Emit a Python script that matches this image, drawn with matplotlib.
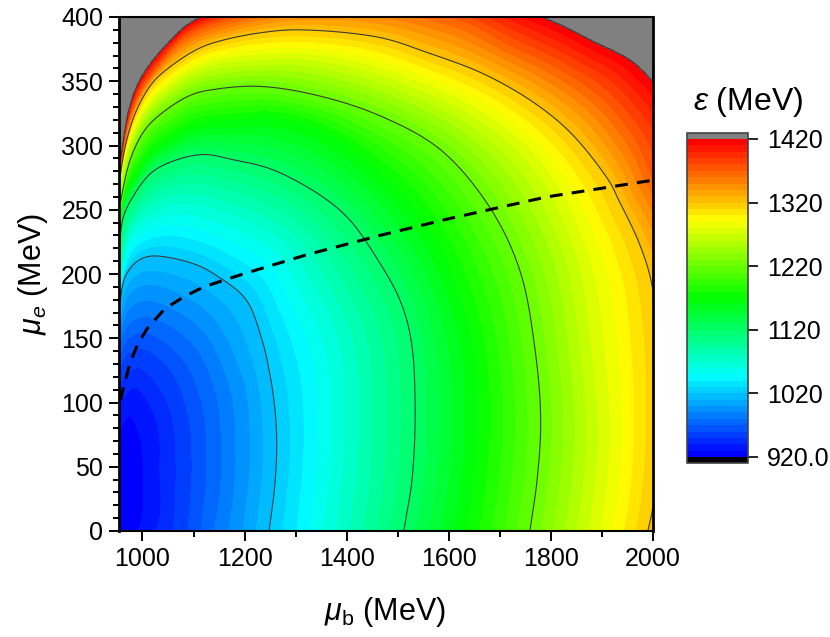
import numpy as np
import matplotlib
matplotlib.use('Agg')
import matplotlib.pyplot as plt
from matplotlib.colors import LinearSegmentedColormap, Normalize
from matplotlib.ticker import MultipleLocator

plt.rcParams['font.family'] = ['Liberation Sans', 'DejaVu Sans']
plt.rcParams['mathtext.fontset'] = 'custom'
plt.rcParams['mathtext.rm'] = 'Liberation Sans'
plt.rcParams['mathtext.it'] = 'Liberation Sans:italic'

# Iso-energy traces: (mu_b, mu_e) for each epsilon level.
# Points just outside the frame close each curve around the minimum.
trace_930 = [(954,-2),(991,0),(1001,45),(997,70),(975,90),(954,78)]
trace_940 = [(954,-8),(1024,0),(1034,50),(1028,85),(985,112),(954,100)]
trace_960 = [(954,-25),(1080,-22),(1088,0),(1095,30),(1097,55),(1090,90),(1055,125),(1000,142),(970,138),(954,127)]
trace_980 = [(954,-30),(1135,-25),(1141,0),(1152,30),(1155,60),(1145,105),(1100,145),(1010,167),(975,162),(954,146)]
trace_1000 = [(954,-40),(1190,-30),(1197,0),(1208,35),(1211,65),(1200,115),(1130,170),(1015,192),(975,185),(954,160)]
trace_1020 = [(954,-40),(1240,-30),(1248,0),(1259,35),(1263,70),(1258,100),(1248,125),(1234,149),(1203,180),
              (1152,197),(1100,208),(1018,214),(990,210),(966,198),(954,172)]
trace_1070 = [(954,-40),(1373,-30),(1381,0),(1392,40),(1398,85),(1393,135),(1365,170),(1330,195),(1280,225),
              (1170,247),(1068,255),(985,238),(954,197)]
trace_1120 = [(954,-40),(1504,-30),(1512,0),(1528,40),(1534,98),(1526,149),(1504,180),(1461,211),(1406,242),
              (1353,260),(1256,281),(1177,289),(1118,293),(1054,287),(1015,278),(981,260),(962,244),(954,219)]
trace_1170 = [(954,-40),(1628,-30),(1636,0),(1650,40),(1657,92),(1648,145),(1600,207),(1543,247),(1465,280),
              (1360,310),(1260,322),(1175,320),(1100,316),(1055,306),(1020,297),(990,280),(966,265),(954,235)]
trace_1220 = [(954,-40),(1750,-30),(1759,0),(1773,40),(1780,86),(1769,141),(1739,203),(1680,252),(1583,297),
              (1466,323),(1342,339),(1230,346),(1146,344),(1093,339),(1028,322),(1001,310),(976,289),(954,250)]
trace_1270 = [(954,-40),(1868,-30),(1875,0),(1888,40),(1893,80),(1880,140),(1850,215),(1770,280),(1660,320),
              (1465,355),(1325,367),(1232,367),(1152,364),(1100,358),(1044,343),(1010,330),(982,309),(962,285),(954,262)]
trace_1320 = [(954,-40),(1982,-20),(1990,0),(2000,20),(2012,100),(2000,187),(1975,222),(1931,259),(1916,271),
              (1857,302),(1811,320),(1745,339),(1661,357),(1560,372),(1465,384),(1308,390),(1236,388),(1158,382),
              (1113,376),(1060,363),(1020,349),(989,328),(969,304),(956,275),(954,268)]
trace_1370 = [(954,-40),(2150,-40),(2160,100),(2100,200),(2000,275),(1965,305),(1905,335),(1815,360),(1720,378),
              (1620,398),(1400,412),(1190,400),(1085,385),(1036,365),(995,342),(972,318),(954,276)]
trace_1420 = [(954,-40),(2250,-40),(2300,100),(2060,320),(2000,350),(1955,367),(1890,380),(1785,400),(1450,440),
              (1107,399),(1054,382),(1001,356),(976,333),(954,285)]
traces = {930: trace_930, 940: trace_940, 960: trace_960, 980: trace_980, 1000: trace_1000,
          1020: trace_1020, 1070: trace_1070, 1120: trace_1120, 1170: trace_1170,
          1220: trace_1220, 1270: trace_1270, 1320: trace_1320, 1370: trace_1370, 1420: trace_1420}

# Where the field is lowest, and the value there
min_b, min_e, min_eps = 954, 40, 920
top_eps = 1500

# Dashed curve
dash_b = [957,965,975,990,1010,1044,1080,1120,1197,1322,1465,1600,1792,2000]
dash_e = [102,115,130,145,158,173,182,190,200,215,230,243,260,273]

level_step = 10
level_min, level_max = 920, 1420
line_levels = [1020, 1120, 1220, 1320, 1420]
cbar_ticks = [920, 1020, 1120, 1220, 1320, 1420]
cbar_labels = ['920.0', '1020', '1120', '1220', '1320', '1420']
xlim = (954, 2000)
ylim = (0, 400)


def to_uv(b, e):
    return ((np.asarray(b, float) - min_b) / (xlim[1] - xlim[0]),
            (np.asarray(e, float) - min_e) / (ylim[1] - ylim[0]))


def smooth_curve(pts, n=10):
    """Centripetal Catmull-Rom through the read points."""
    P = np.vstack([2 * pts[0] - pts[1], pts, 2 * pts[-1] - pts[-2]])
    out = []
    for i in range(1, len(P) - 2):
        p0, p1, p2, p3 = P[i - 1], P[i], P[i + 1], P[i + 2]
        t0 = 0.0
        t1 = t0 + np.linalg.norm(p1 - p0) ** 0.5
        t2 = t1 + np.linalg.norm(p2 - p1) ** 0.5
        t3 = t2 + np.linalg.norm(p3 - p2) ** 0.5
        t = np.linspace(t1, t2, n, endpoint=False)[:, None]
        a1 = (t1 - t) / (t1 - t0) * p0 + (t - t0) / (t1 - t0) * p1
        a2 = (t2 - t) / (t2 - t1) * p1 + (t - t1) / (t2 - t1) * p2
        a3 = (t3 - t) / (t3 - t2) * p2 + (t - t2) / (t3 - t2) * p3
        b1 = (t2 - t) / (t2 - t0) * a1 + (t - t0) / (t2 - t0) * a2
        b2 = (t3 - t) / (t3 - t1) * a2 + (t - t1) / (t3 - t1) * a3
        out.append((t2 - t) / (t2 - t1) * b1 + (t - t1) / (t2 - t1) * b2)
    out.append(pts[-1:])
    return np.vstack(out)


# Tabulate each trace as radius against angle, then read the field off the traces
d_ang = 0.1
ang = np.arange(-90, 90 + d_ang / 2, d_ang)
radii = [np.zeros_like(ang)]
eps_levels = [min_eps]
for lev in sorted(traces):
    u, v = to_uv(*np.array(traces[lev], float).T)
    c = smooth_curve(np.column_stack([u, v]))
    th = np.degrees(np.arctan2(c[:, 1], np.maximum(c[:, 0], 0)))
    rr = np.hypot(c[:, 0], c[:, 1])
    o = np.argsort(th)
    radii.append(np.interp(ang, th[o], rr[o]))
    eps_levels.append(lev)
radii = np.maximum.accumulate(np.array(radii), axis=0)
radii += np.arange(radii.shape[0])[:, None] * 1e-6
eps_levels = np.array(eps_levels, float)

grid_b = np.linspace(xlim[0], xlim[1], 800)
grid_e = np.linspace(ylim[0], ylim[1], 700)
B, E = np.meshgrid(grid_b, grid_e)
U, V = to_uv(B, E)
TH = np.degrees(np.arctan2(V, U))
RR = np.hypot(U, V)
pos = np.clip((TH + 90) / d_ang, 0, len(ang) - 1.001)
ia = pos.astype(int)
fr = pos - ia
Z = np.zeros_like(B)
for j in np.unique(ia):
    m = ia == j
    z0 = np.interp(RR[m], radii[:, j], eps_levels, right=top_eps)
    z1 = np.interp(RR[m], radii[:, j + 1], eps_levels, right=top_eps)
    Z[m] = (1 - fr[m]) * z0 + fr[m] * z1

levels = np.arange(level_min, level_max + 1, level_step)
cmap = LinearSegmentedColormap.from_list('rb', ['#0000ff', '#00ffff', '#00ff00', '#ffff00', '#ff0000'],
                                         N=len(levels) - 1)
cmap.set_over('#808080')
cmap.set_under('#000000')
norm = Normalize(level_min, level_max)

W, H = 830, 637
fig = plt.figure(figsize=(W / 100, H / 100), dpi=100)
ax = fig.add_axes([119 / W, 1 - 531 / H, (653 - 119) / W, (531 - 17) / H])
cf = ax.contourf(B, E, Z, levels=levels, cmap=cmap, norm=norm, extend='both')
ax.contour(B, E, Z, levels=line_levels, colors='#3c3c3c', linewidths=0.8)
ax.plot(dash_b, dash_e, color='k', lw=2.2, ls=(0, (4.2, 3)))
ax.set_xlim(*xlim)
ax.set_ylim(*ylim)
ax.xaxis.set_major_locator(MultipleLocator(200))
ax.xaxis.set_minor_locator(MultipleLocator(100))
ax.yaxis.set_major_locator(MultipleLocator(50))
ax.yaxis.set_minor_locator(MultipleLocator(10))
ax.tick_params(which='major', direction='out', length=7.5, width=1.4, labelsize=18, pad=4)
ax.tick_params(which='minor', direction='out', length=4, width=1.4)
for s, lw in zip(['left', 'right', 'top', 'bottom'], [2, 2, 1.5, 1.5]):
    ax.spines[s].set_linewidth(lw)
fig.text(385 / W, 1 - 612 / H, r'$\mu_{\mathrm{b}}$ (MeV)', fontsize=22, ha='center', va='center')
fig.text(33 / W, 1 - 274 / H, r'$\mu_{e}$ (MeV)', fontsize=22, ha='center', va='center', rotation=90)

cax = fig.add_axes([687 / W, 1 - 463 / H, (748 - 687) / W, (463 - 133) / H])
cb = fig.colorbar(cf, cax=cax, extend='both', extendfrac=6 / 318, extendrect=True, drawedges=False)
cb.set_ticks(cbar_ticks)
cb.set_ticklabels(cbar_labels)
cb.minorticks_off()
cax.tick_params(which='major', direction='out', length=7.5, width=1.2, labelsize=18, pad=6)
cb.outline.set_edgecolor('#444444')
cb.outline.set_linewidth(1.2)
fig.text(748 / W, 1 - 102 / H, r'$\varepsilon$ (MeV)', fontsize=23, ha='center', va='center')
fig.savefig('out.png', dpi=100)
